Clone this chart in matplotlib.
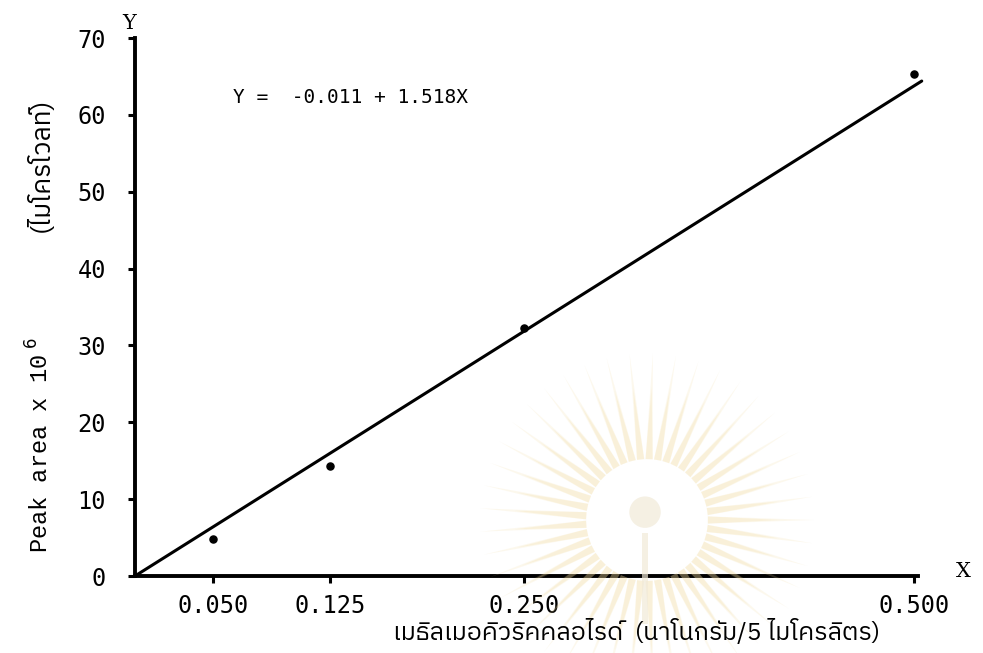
import matplotlib
matplotlib.use("Agg")
import matplotlib.pyplot as plt
from matplotlib import font_manager
from matplotlib.patches import Ellipse
import numpy as np

# calibration data: methylmercuric chloride amount vs peak area
conc = [0.050, 0.125, 0.250, 0.500]
peak_area = [4.8, 14.3, 32.3, 65.3]

# fitted line as drawn on the graph
fit_x = [0.0, 0.505]
fit_y = [0.0, 64.4]

xticks = [0.050, 0.125, 0.250, 0.500]
xtick_labels = ["0.050", "0.125", "0.250", "0.500"]
yticks = [0, 10, 20, 30, 40, 50, 60, 70]

names = sorted({f.name for f in font_manager.fontManager.ttflist})
thai = [n for n in names if any(k in n for k in ("Thai", "Loma", "Garuda", "Tlwg", "Sarabun",
                                                 "Kinnari", "Norasi", "Waree", "Umpush"))]
thai_fam = thai + ["DejaVu Sans"]
mono = "DejaVu Sans Mono"

fig = plt.figure(figsize=(9.83, 6.53), dpi=100)

# faint sunburst seal in the page background
cx, cy = 647 / 983, 1 - 520 / 653
aspect = 983 / 653
for ang in np.arange(0, 360, 8):
    a = np.deg2rad(ang)
    for r1, alpha in ((0.17, 0.18), (0.135, 0.25)):
        r0, hw = 0.062, np.deg2rad(3.4)
        pts = [(cx + r0 * np.cos(a - hw), cy + r0 * np.sin(a - hw) * aspect),
               (cx + r1 * np.cos(a), cy + r1 * np.sin(a) * aspect),
               (cx + r0 * np.cos(a + hw), cy + r0 * np.sin(a + hw) * aspect)]
        fig.patches.append(plt.Polygon(pts, closed=True, transform=fig.transFigure,
                                       facecolor="#f3dca0", edgecolor="none",
                                       alpha=alpha, zorder=0))
fig.patches.append(Ellipse((cx - 0.002, cy + 0.012), 0.032, 0.032 * aspect,
                           transform=fig.transFigure, facecolor="#f1ead8",
                           edgecolor="none", alpha=0.7, zorder=0))
fig.patches.append(plt.Rectangle((cx - 0.005, cy - 0.16), 0.006, 0.14,
                                 transform=fig.transFigure, facecolor="#f1ead8",
                                 edgecolor="none", alpha=0.7, zorder=0))

ax = fig.add_axes([135 / 983, 77 / 653, 783 / 983, 538 / 653])
ax.patch.set_alpha(0)

ax.plot(fit_x, fit_y, color="black", lw=2.2, clip_on=False, solid_capstyle="round")
ax.scatter(conc, peak_area, s=26, color="black", zorder=3, clip_on=False)

ax.set_xlim(0, 0.5026)
ax.set_ylim(0, 70)
for side in ("top", "right"):
    ax.spines[side].set_visible(False)
for side in ("left", "bottom"):
    ax.spines[side].set_linewidth(2.8)

ax.set_xticks(xticks)
ax.set_xticklabels(xtick_labels)
ax.set_yticks(yticks)
ax.tick_params(axis="both", direction="out", width=2.2, length=5)
ax.tick_params(axis="x", labelsize=17, pad=8)
ax.tick_params(axis="y", labelsize=17, pad=16)
for lab in ax.get_xticklabels() + ax.get_yticklabels():
    lab.set_family(mono)

# axis end letters
ax.text(-0.008, 70.6, "Y", fontsize=15, family="DejaVu Serif", ha="left", va="bottom",
        clip_on=False)
ax.text(0.5315, 0.6, "X", fontsize=15, family="DejaVu Serif", ha="center", va="center",
        clip_on=False)

ax.text(0.063, 62.3, "Y =  -0.011 + 1.518X", fontsize=14, family=mono,
        ha="left", va="center")

# axis titles
fig.text(40 / 983, 1 - 445 / 653, r"Peak area x 10$^{\ 6}$", rotation=90,
         fontsize=17, family="Liberation Mono", ha="center", va="center")
fig.text(40 / 983, 1 - 165 / 653, "(ไมโครโวลท์)", rotation=90,
         fontsize=19, family=thai_fam, ha="center", va="center")
fig.text(637 / 983, 1 - 632 / 653, "เมธิลเมอคิวริคคลอไรด์  (นาโนกรัม/5 ไมโครลิตร)",
         fontsize=18, family=thai_fam, ha="center", va="center")

fig.savefig("out.png", dpi=100)
